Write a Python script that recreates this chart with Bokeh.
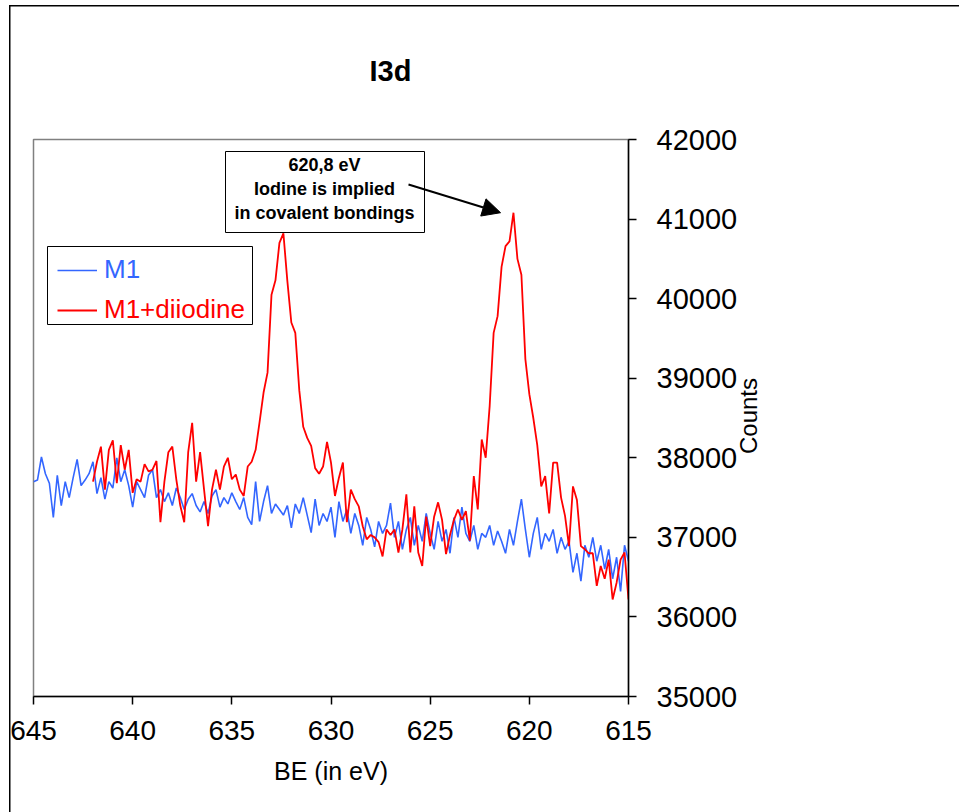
from bokeh.plotting import figure
from bokeh.layouts import GridBox
from bokeh.models import (Range1d, FixedTicker, Legend, LegendItem, Label, Div,
                          BoxAnnotation, Arrow, NormalHead, ColumnDataSource)
from bokeh.embed import file_html
from bokeh.resources import INLINE

# ---------------- data ----------------
title_text = "I3d"
x_label = "BE (in eV)"
y_label = "Counts"
series_names = ["M1", "M1+diiodine"]
x_ticks = [645, 640, 635, 630, 625, 620, 615]
y_ticks = [35000, 36000, 37000, 38000, 39000, 40000, 41000, 42000]
note_lines = ["620,8 eV", "Iodine is implied", "in covalent bondings"]

be_step = 0.2
m1_start = 645.0
m1_counts = [
    37700, 37720, 38010, 37800, 37680, 37250, 37780, 37400, 37700, 37500,
    37750, 37980, 37650, 37720, 37800, 37950, 37550, 37750, 37480, 37700,
    37620, 38000, 37700, 37850, 37650, 37380, 37700, 37600, 37500, 37780,
    37850, 37500, 37600, 37450, 37560, 37400, 37620, 37500, 37350, 37480,
    37550, 37400, 37320, 37450, 37300, 37520, 37600, 37380, 37500, 37420,
    37560, 37450, 37350, 37500, 37250, 37160, 37700, 37200, 37450, 37650,
    37300, 37420, 37350, 37280, 37400, 37120, 37420, 37300, 37500, 37280,
    37060, 37480, 37150, 37300, 37200, 37380, 37000, 37450, 37200, 37350,
    37050, 37300, 37150, 36900, 37250, 37100, 36880, 37200, 37050, 37150,
    37430, 37000, 37200, 36850, 37100, 37250, 36900, 37150, 36950, 37300,
    37050, 36850, 37200, 36950, 37100, 36800, 37250, 37000, 37380, 37050,
    36950, 37150, 36850, 37050, 37000, 37150, 36900, 37080, 36950, 36800,
    37100, 36900, 37200, 37480, 37100, 36750, 37050, 37250, 36850, 37050,
    36950, 37100, 36800, 37000, 36850, 36950, 36560, 36800, 36450, 36900,
    36750, 37000, 36700, 36900, 36600, 36850, 36480, 36750, 36320, 36900,
    36700,
]
m1i_start = 642.0
m1i_counts = [
    37700, 37950, 38140, 37600, 38100, 38220, 37680, 38160, 37850, 38100,
    37560, 37730, 37700, 37920, 37830, 37850, 37960, 37190, 37700, 38070,
    38140, 37730, 37400, 37190, 38070, 38440, 37700, 38070, 37600, 37140,
    37600, 37850, 37600, 37890, 38000, 37730, 37790, 37600, 37520, 37890,
    37950, 38100, 38450, 38820, 39070, 40050, 40230, 40700, 40820, 40220,
    39700, 39570, 38850, 38390, 38250, 38150, 37870, 37800, 37890, 38200,
    37940, 37520, 37750, 37940, 37190, 37600, 37480, 37390, 37140, 36975,
    37030, 37000, 36940, 36760, 37100, 37030, 37100, 36810, 37100, 37540,
    36810, 37390, 36810, 36640, 37260, 36890, 37260, 37440, 37220, 36790,
    37030, 37220, 37350, 37220, 37330, 36960, 37770, 37350, 38230, 38000,
    38650, 39570, 39780, 40400, 40660, 40720, 41080, 40500, 40300, 39240,
    38800, 38500, 38160, 37640, 37770, 37300, 37940, 37940, 37500, 37270,
    36890, 37640, 37470, 36890, 36850, 36800, 36800, 36390, 36640, 36480,
    36720, 36220, 36430, 36720, 36810, 36220,
]

m1_be = [round(m1_start - be_step * i, 1) for i in range(len(m1_counts))]
m1i_be = [round(m1i_start - be_step * i, 1) for i in range(len(m1i_counts))]

# ---------------- styles ----------------
FONT = "Liberation Sans"
BLUE = "#3366FF"
RED = "#FF0000"
W, H = 959, 812

p = figure(frame_width=595, frame_height=557,
           min_border_left=33, min_border_right=331,
           min_border_top=138, min_border_bottom=117,
           x_range=Range1d(645, 615), y_range=Range1d(35000, 42000),
           y_axis_location="right", output_backend="svg",
           toolbar_location=None, background_fill_color="white")
p.border_fill_alpha = 0
p.styles = {
    "background": ("linear-gradient(#000,#000) 9px 5px / 1.5px 2000px no-repeat, "
                   "linear-gradient(#000,#000) 9px 5px / 2000px 1.5px no-repeat, white"),
}

p.title.text = title_text
p.title.align = "left"
p.title.offset = 336
p.title.text_font = FONT
p.title.text_font_size = "29px"
p.title.text_font_style = "bold"
p.title.text_color = "black"
p.title.standoff = 105

p.grid.visible = False
p.outline_line_color = "#808080"
p.outline_line_width = 1.5

for ax in (p.xaxis[0], p.yaxis[0]):
    ax.axis_line_color = "black"
    ax.axis_line_width = 1.5
    ax.major_tick_line_color = "black"
    ax.major_tick_line_width = 1.5
    ax.major_tick_in = 0
    ax.major_tick_out = 8
    ax.minor_tick_line_color = None
    ax.major_label_text_color = "black"
    ax.axis_label_text_color = "black"
    ax.axis_label_text_font = FONT
    ax.axis_label_text_font_style = "normal"

p.xaxis.ticker = FixedTicker(ticks=x_ticks)
p.yaxis.ticker = FixedTicker(ticks=y_ticks)
p.xaxis.major_label_text_font = FONT
p.xaxis.major_label_text_font_size = "28px"
p.xaxis.major_label_standoff = 16
p.yaxis.major_label_text_font = FONT
p.yaxis.major_label_text_font_size = "29px"
p.yaxis.major_label_standoff = 20

p.xaxis.axis_label = x_label
p.xaxis.axis_label_text_font_size = "25px"
p.xaxis.axis_label_standoff = 14

src_m1 = ColumnDataSource(dict(be=m1_be, counts=m1_counts))
src_m1i = ColumnDataSource(dict(be=m1i_be, counts=m1i_counts))
r_m1 = p.line("be", "counts", source=src_m1, line_color=BLUE, line_width=1.6)
r_m1i = p.line("be", "counts", source=src_m1i, line_color=RED, line_width=1.8)

# legend box + two legends (coloured texts)
p.add_layout(BoxAnnotation(left=14, right=219, top=450, bottom=372,
                           left_units="screen", right_units="screen",
                           top_units="screen", bottom_units="screen",
                           fill_color="white", fill_alpha=1,
                           line_color="black", line_alpha=1, line_width=1))
for name, rend, col, bottom in ((series_names[0], r_m1, BLUE, 411),
                                (series_names[1], r_m1i, RED, 371)):
    lg = Legend(items=[LegendItem(label=name, renderers=[rend])],
                location=(24, bottom), label_text_color=col,
                label_text_font=FONT, label_text_font_size="26px",
                glyph_width=40, glyph_height=26, label_height=26,
                label_standoff=7, padding=0, margin=0, spacing=0,
                border_line_color=None, background_fill_alpha=0)
    p.add_layout(lg)

# annotation box
p.add_layout(BoxAnnotation(left=192, right=391, top=545, bottom=464,
                           left_units="screen", right_units="screen",
                           top_units="screen", bottom_units="screen",
                           fill_color="white", fill_alpha=1,
                           line_color="black", line_alpha=1, line_width=1))
for txt, yy in zip(note_lines, (532, 508, 484)):
    p.add_layout(Label(x=291, y=yy, x_units="screen", y_units="screen",
                       text=txt, text_font=FONT, text_font_size="18px",
                       text_font_style="bold", text_align="center",
                       text_baseline="middle", text_color="black"))

# arrow to the 620.8 eV peak
imax = max(range(len(m1i_counts)), key=lambda i: m1i_counts[i])
p.add_layout(Arrow(end=NormalHead(size=18, fill_color="black", line_color="black"),
                   x_start=375, y_start=512, start_units="screen",
                   x_end=m1i_be[imax] + 0.65, y_end=m1i_counts[imax],
                   line_color="black", line_width=2))

# y-axis title (reads bottom-to-top, centred on the axis) as an SVG overlay
cx, cy = 743, 411
ylab = Div(width=W, height=H, text=(
    f'<svg xmlns="http://www.w3.org/2000/svg" width="{W}" height="{H}" '
    f'style="position:absolute;left:0;top:0;pointer-events:none">'
    f'<text x="{cx}" y="{cy}" transform="rotate(-90 {cx} {cy})" '
    f'text-anchor="middle" dominant-baseline="central" '
    f'font-family="{FONT}" font-size="24px" fill="black">{y_label}</text></svg>'),
    styles={"pointer-events": "none"})

layout = GridBox(children=[(p, 0, 0), (ylab, 0, 0)])
open("out.html", "w").write(file_html(layout, INLINE))
